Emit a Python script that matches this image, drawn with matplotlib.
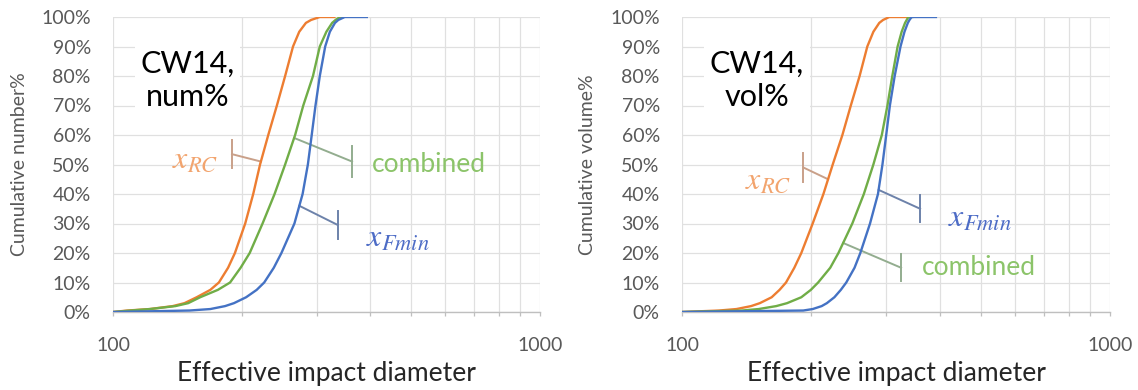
import numpy as np
import matplotlib.pyplot as plt

plt.rcParams['font.family'] = ['Lato', 'DejaVu Sans']
plt.rcParams['mathtext.fontset'] = 'stix'

# cumulative percent levels shared by every curve (last point = end of flat top)
pct = [0, 0.5, 1, 2, 3, 5, 7.5, 10, 15, 20, 30, 40, 50, 60, 70, 80, 90, 95, 98, 99, 100, 100]

# effective impact diameter at each level, number%
num_rc = [100, 108, 122, 138, 147, 157, 169, 177, 186, 193, 204, 213, 221, 231, 242, 253,
          264, 273, 283, 291, 305, 330]
num_comb = [100, 110, 122, 140, 150, 160, 176, 188, 199, 209, 224, 239, 253, 267, 279, 294,
            305, 316, 326, 332, 340, 345]
num_fmin = [100, 151, 169, 183, 192, 205, 217, 226, 238, 248, 266, 278, 286, 292, 298, 305,
            314, 322, 331, 337, 349, 393]

# volume%
vol_rc = [100, 122, 134, 145, 152, 162, 169, 175, 183, 190, 202, 214, 225, 237, 248, 260,
          271, 280, 289, 295, 305, 336]
vol_comb = [100, 138, 151, 166, 176, 190, 200, 208, 222, 232, 250, 266, 280, 293, 302, 310,
            319, 326, 332, 335, 338, 345]
vol_fmin = [100, 192, 202, 212, 218, 227, 235, 242, 253, 261, 275, 287, 294, 300, 306, 314,
            324, 331, 337, 340, 344, 392]

yticks = list(range(0, 101, 10))
xminor = [200, 300, 400, 500, 600, 700, 800, 900]

line_colors = ['#ed7d31', '#70ad47', '#4472c4']
label_colors = ['#f2a46e', '#8cc46a', '#4d6cc6']
leader_colors = ['#c9a089', '#93ad8f', '#6d82aa']

panels = [
    dict(series=[num_rc, num_comb, num_fmin], ylabel='Cumulative number%', title='CW14,\nnum%',
         # (series, anchor %, bar x, bar mid %, bar half height, text, text x, text y, ha)
         notes=[(0, 51, 190, 53.5, 4.8, r'$x_{RC}$', 156, 52, 'center'),
                (1, 59, 363, 51, 5.2, 'combined', 404, 50, 'left'),
                (2, 36, 336, 29.5, 4.7, r'$x_{Fmin}$', 392, 25, 'left')]),
    dict(series=[vol_rc, vol_comb, vol_fmin], ylabel='Cumulative volume%', title='CW14,\nvol%',
         notes=[(0, 45, 192, 49, 4.9, r'$x_{RC}$', 159, 44.7, 'center'),
                (1, 23.4, 325, 15, 4.6, 'combined', 364, 15, 'left'),
                (2, 41.4, 360, 35, 4.6, r'$x_{Fmin}$', 419, 32, 'left')]),
]

fig = plt.figure(figsize=(11.38, 3.9), dpi=100)
rects = [[113 / 1138, 78 / 390, 427 / 1138, 295 / 390],
         [682 / 1138, 78 / 390, 428 / 1138, 295 / 390]]

for rect, p in zip(rects, panels):
    ax = fig.add_axes(rect)
    for d, c in zip(p['series'], line_colors):
        ax.plot(d, pct, color=c, lw=1.7, zorder=3)

    ax.set_xscale('log')
    ax.set_xlim(100, 1000)
    ax.set_ylim(0, 100)
    ax.set_xticks([100, 1000], ['100', '1000'])
    ax.set_xticks(xminor, minor=True)
    ax.set_xticklabels([], minor=True)
    ax.set_yticks(yticks, [f'{v}%' for v in yticks])

    ax.grid(True, which='both', axis='x', color='#e0e0e0', lw=0.9)
    ax.grid(True, which='major', axis='y', color='#e0e0e0', lw=0.9)
    ax.set_axisbelow(True)
    for s in ['top', 'right', 'left']:
        ax.spines[s].set_visible(False)
    ax.spines['bottom'].set_color('#bfbfbf')
    ax.spines['bottom'].set_linewidth(1.0)

    ax.tick_params(axis='y', length=0, pad=16, labelsize=14, labelcolor='#595959')
    ax.tick_params(axis='x', which='both', direction='out', length=3, width=0.9,
                   color='#bfbfbf', pad=15, labelsize=14, labelcolor='#595959')

    ax.set_ylabel(p['ylabel'], fontsize=14, color='#595959')
    ax.yaxis.set_label_coords(-0.2, 0.5)
    ax.set_xlabel('Effective impact diameter', fontsize=19, color='#262626')
    ax.xaxis.set_label_coords(0.5, -0.165)

    ax.text(0.175, 0.785, p['title'], transform=ax.transAxes, fontsize=22,
            ha='center', va='center', linespacing=1.25, color='black', zorder=4,
            bbox=dict(facecolor='white', edgecolor='none', pad=4))

    for i, ap, bx, bmid, bh, txt, tx, ty, ha in p['notes']:
        d = p['series'][i]
        # anchor point on the curve, taken from the series itself
        ax_d = 10 ** np.interp(ap, pct[:-1], np.log10(d[:-1]))
        ax.plot([ax_d, bx], [ap, bmid], color=leader_colors[i], lw=1.4, zorder=2)
        ax.plot([bx, bx], [bmid - bh, bmid + bh], color=leader_colors[i], lw=1.4, zorder=2)
        size = 19 if txt == 'combined' else 23
        ax.text(tx, ty, txt, color=label_colors[i], fontsize=size, ha=ha, va='center')

fig.savefig('out.png', dpi=100)
